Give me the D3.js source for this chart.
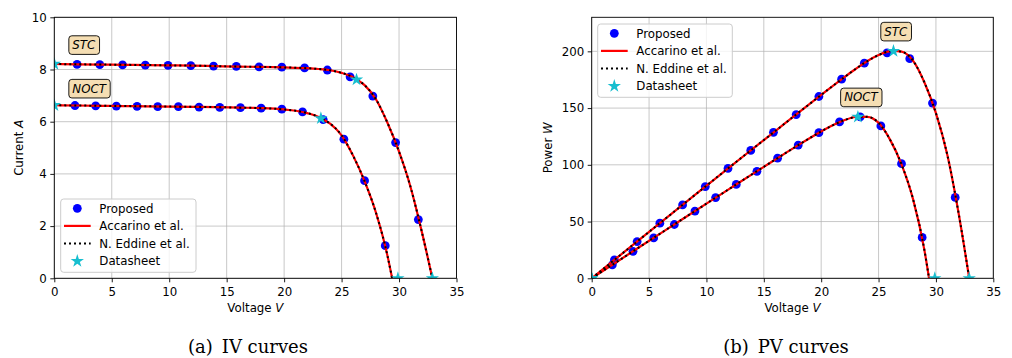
<html>
<head>
<style>
body { margin: 0; background: #fff; }
</style>
<script src="https://d3js.org/d3.v7.min.js"></script>
</head>
<body>
<div id="chart"></div>
<script>

// proposed model, STC
var stcV = [1.98, 3.96, 5.94, 7.92, 9.9, 11.88, 13.86, 15.84, 17.82, 19.8, 21.78, 23.76, 25.74, 27.72, 29.7, 31.68];
var stcI = [8.2, 8.19, 8.18, 8.17, 8.16, 8.15, 8.13, 8.12, 8.1, 8.09, 8.06, 7.98, 7.72, 6.98, 5.2, 2.25];
var stcP = [16.2, 32.4, 48.6, 64.7, 80.8, 96.8, 112.7, 128.6, 144.3, 160.2, 175.5, 189.6, 198.7, 193.5, 154.4, 71.3];
// proposed model, NOCT
var noctV = [1.8, 3.6, 5.4, 7.2, 9.0, 10.8, 12.6, 14.4, 16.2, 18.0, 19.8, 21.6, 23.4, 25.2, 27.0, 28.8];
var noctI = [6.62, 6.61, 6.6, 6.59, 6.58, 6.58, 6.56, 6.55, 6.54, 6.52, 6.48, 6.38, 6.08, 5.33, 3.74, 1.25];
var noctP = [11.9, 23.8, 35.6, 47.4, 59.2, 71.1, 82.7, 94.3, 105.9, 117.4, 128.3, 137.8, 142.3, 134.3, 101, 36];

// reference curves (Accarino et al. and N. Eddine et al. overlap)
var stcCurveV = [0, 2, 4, 6, 8, 10, 12, 14, 16, 18, 20, 22, 23, 24, 25, 26, 26.3, 27, 28, 29, 30, 31, 32, 32.9];
var stcCurveI = [8.21, 8.2, 8.19, 8.18, 8.17, 8.16, 8.15, 8.13, 8.11, 8.1, 8.08, 8.05, 8.02, 7.97, 7.87, 7.7, 7.62, 7.4, 6.85, 5.95, 4.85, 3.5, 1.75, 0];
var stcCurveP = [0, 16.4, 32.76, 49.08, 65.36, 81.6, 97.8, 113.82, 129.76, 145.8, 161.6, 177.1, 184.46, 191.28, 196.75, 200.2, 200.41, 199.8, 191.8, 172.55, 145.5, 108.5, 56, 0];
var noctCurveV = [0, 2, 4, 6, 8, 10, 12, 14, 16, 18, 20, 21, 22, 23, 23.2, 24, 25, 26, 27, 28, 29, 29.4];
var noctCurveI = [6.63, 6.62, 6.61, 6.6, 6.59, 6.58, 6.57, 6.56, 6.54, 6.52, 6.47, 6.42, 6.33, 6.18, 6.13, 5.93, 5.48, 4.7, 3.72, 2.5, 0.85, 0];
var noctCurveP = [0, 13.24, 26.44, 39.6, 52.72, 65.8, 78.84, 91.84, 104.64, 117.36, 129.4, 134.82, 139.26, 142.14, 142.22, 142.32, 137, 122.2, 100.44, 70, 24.65, 0];

// datasheet values (Isc, MPP, Voc)
var dsStcV = [0, 26.3, 32.9];
var dsStcI = [8.21, 7.61, 0];
var dsStcP = [0, 200.2, 0];
var dsNoctV = [0, 23.2, 29.9];
var dsNoctI = [6.63, 6.13, 0];
var dsNoctP = [0, 142.2, 0];

var xTicks = [0, 5, 10, 15, 20, 25, 30, 35];
var ivTicks = [0, 2, 4, 6, 8, 10];
var pvTicks = [0, 50, 100, 150, 200];
var legendLabels = ["Proposed", "Accarino et al.", "N. Eddine et al.", "Datasheet"];

var blue = "#0000ff", red = "#ff0000", cyan = "#17becf";
var fs = 11.8;
var sans = "'DejaVu Sans', sans-serif";

var svg = d3.select("#chart").append("svg")
    .attr("width", 1012).attr("height", 358)
    .style("font-family", sans);
svg.append("rect").attr("width", 1012).attr("height", 358).attr("fill", "#fff");

function zip(a, b) { return a.map(function(d, i) { return [d, b[i]]; }); }

function drawPanel(cfg) {
  var x = d3.scaleLinear().domain([0, 35]).range([cfg.left, cfg.right]);
  var y = d3.scaleLinear().domain(cfg.yDomain).range([278.3, 17.3]);
  var g = svg.append("g");

  g.append("clipPath").attr("id", cfg.id + "clip")
    .append("rect").attr("x", cfg.left).attr("y", 17.3)
    .attr("width", cfg.right - cfg.left).attr("height", 261);

  // grid
  g.append("g").selectAll("line").data(xTicks).enter().append("line")
    .attr("x1", x).attr("x2", x).attr("y1", 17.3).attr("y2", 278.3)
    .attr("stroke", "#b0b0b0").attr("stroke-opacity", 0.7).attr("stroke-width", 1);
  g.append("g").selectAll("line").data(cfg.yTicks).enter().append("line")
    .attr("y1", y).attr("y2", y).attr("x1", cfg.left).attr("x2", cfg.right)
    .attr("stroke", "#b0b0b0").attr("stroke-opacity", 0.7).attr("stroke-width", 1);

  var plot = g.append("g").attr("clip-path", "url(#" + cfg.id + "clip)");
  var line = d3.line().x(function(d) { return x(d[0]); }).y(function(d) { return y(d[1]); })
    .curve(d3.curveMonotoneX);

  cfg.points.forEach(function(p) {
    plot.append("g").selectAll("circle").data(p).enter().append("circle")
      .attr("cx", function(d) { return x(d[0]); })
      .attr("cy", function(d) { return y(d[1]); })
      .attr("r", 4.4).attr("fill", blue);
  });
  cfg.curves.forEach(function(c) {
    plot.append("path").datum(c).attr("d", line)
      .attr("fill", "none").attr("stroke", red).attr("stroke-width", 2.2);
  });
  cfg.curves.forEach(function(c) {
    plot.append("path").datum(c).attr("d", line)
      .attr("fill", "none").attr("stroke", "#000").attr("stroke-width", 2)
      .attr("stroke-dasharray", "2,3");
  });
  var star = d3.symbol().type(d3.symbolStar).size(55);
  cfg.stars.forEach(function(s) {
    plot.append("g").selectAll("path").data(s).enter().append("path")
      .attr("d", star)
      .attr("transform", function(d) { return "translate(" + x(d[0]) + "," + y(d[1]) + ")"; })
      .attr("fill", cyan);
  });

  // axes
  var xa = g.append("g").attr("transform", "translate(0,278.3)")
    .call(d3.axisBottom(x).tickValues(xTicks).tickSize(4).tickPadding(5.5));
  var ya = g.append("g").attr("transform", "translate(" + cfg.left + ",0)")
    .call(d3.axisLeft(y).tickValues(cfg.yTicks).tickSize(4).tickPadding(3.5));
  [xa, ya].forEach(function(a) {
    a.select(".domain").remove();
    a.selectAll("text").style("font-size", fs + "px").style("font-family", sans).attr("fill", "#000");
    a.selectAll("line").attr("stroke", "#000").attr("stroke-width", 0.9);
  });
  g.append("rect").attr("x", cfg.left).attr("y", 17.3)
    .attr("width", cfg.right - cfg.left).attr("height", 261)
    .attr("fill", "none").attr("stroke", "#000").attr("stroke-width", 0.9);

  // axis titles
  var xt = g.append("text").attr("x", (cfg.left + cfg.right) / 2).attr("y", 312)
    .attr("text-anchor", "middle").style("font-size", fs + "px");
  xt.append("tspan").text("Voltage ");
  xt.append("tspan").style("font-style", "italic").text("V");
  var yt = g.append("text").attr("transform", "translate(" + cfg.yTitleX + ",147.8) rotate(-90)")
    .attr("text-anchor", "middle").style("font-size", fs + "px");
  yt.append("tspan").text(cfg.yTitle + " ");
  yt.append("tspan").style("font-style", "italic").text(cfg.yUnit);

  // STC / NOCT tags
  cfg.tags.forEach(function(t) {
    var tg = g.append("g");
    var tx = tg.append("text").attr("x", x(t.v)).attr("y", y(t.val)).attr("dy", "0.35em")
      .style("font-size", fs + "px").style("font-style", "italic").text(t.label);
    var b = tx.node().getBBox();
    tg.insert("rect", "text").attr("x", b.x - 3.5).attr("y", b.y - 2.3)
      .attr("width", b.width + 7).attr("height", b.height + 4.6).attr("rx", 3)
      .attr("fill", "#f5deb3").attr("stroke", "#000").attr("stroke-width", 0.9);
  });

  // legend
  var lg = g.append("g").attr("transform", "translate(" + cfg.legX + "," + cfg.legY + ")");
  lg.append("rect").attr("width", cfg.legW).attr("height", 73.3).attr("rx", 3)
    .attr("fill", "#fff").attr("fill-opacity", 0.8).attr("stroke", "#ccc").attr("stroke-width", 1);
  legendLabels.forEach(function(l, i) {
    var cy = 9.3 + i * 17.6;
    if (i === 0) lg.append("circle").attr("cx", 16.6).attr("cy", cy).attr("r", 4.4).attr("fill", blue);
    if (i === 1) lg.append("line").attr("x1", 3.3).attr("x2", 30).attr("y1", cy).attr("y2", cy)
      .attr("stroke", red).attr("stroke-width", 2.2);
    if (i === 2) lg.append("line").attr("x1", 3.3).attr("x2", 30).attr("y1", cy).attr("y2", cy)
      .attr("stroke", "#000").attr("stroke-width", 2).attr("stroke-dasharray", "2,3");
    if (i === 3) lg.append("path").attr("d", star).attr("transform", "translate(16.6," + cy + ")")
      .attr("fill", cyan);
    lg.append("text").attr("x", 38.6).attr("y", cy).attr("dy", "0.36em")
      .style("font-size", fs + "px").text(l);
  });

  // caption
  svg.append("text").attr("x", cfg.capX).attr("y", 353).attr("text-anchor", "middle")
    .style("font-family", "'DejaVu Serif', serif").style("font-size", "18px").attr("fill", "#000")
    .text(cfg.caption);
}

drawPanel({
  id: "iv", left: 54.3, right: 456.5, yDomain: [0, 10], yTicks: ivTicks,
  yTitle: "Current", yUnit: "A", yTitleX: 23,
  points: [zip(stcV, stcI), zip(noctV, noctI)],
  curves: [zip(stcCurveV, stcCurveI), zip(noctCurveV, noctCurveI)],
  stars: [zip(dsStcV, dsStcI), zip(dsNoctV, dsNoctI)],
  tags: [{label: "STC", v: 1.57, val: 8.94}, {label: "NOCT", v: 1.57, val: 7.27}],
  legX: 60.7, legY: 199, legW: 135.3,
  caption: "(a)\u2002IV curves", capX: 248
});

drawPanel({
  id: "pv", left: 591.7, right: 993.3, yDomain: [0, 230], yTicks: pvTicks,
  yTitle: "Power", yUnit: "W", yTitleX: 552,
  points: [zip(stcV, stcP), zip(noctV, noctP)],
  curves: [zip(stcCurveV, stcCurveP), zip(noctCurveV, noctCurveP)],
  stars: [zip(dsStcV, dsStcP), zip(dsNoctV, dsNoctP)],
  tags: [{label: "STC", v: 25.5, val: 217.5}, {label: "NOCT", v: 22.0, val: 159.5}],
  legX: 597.7, legY: 24, legW: 134.6,
  caption: "(b)\u2002PV curves", capX: 786
});

</script>
</body>
</html>
